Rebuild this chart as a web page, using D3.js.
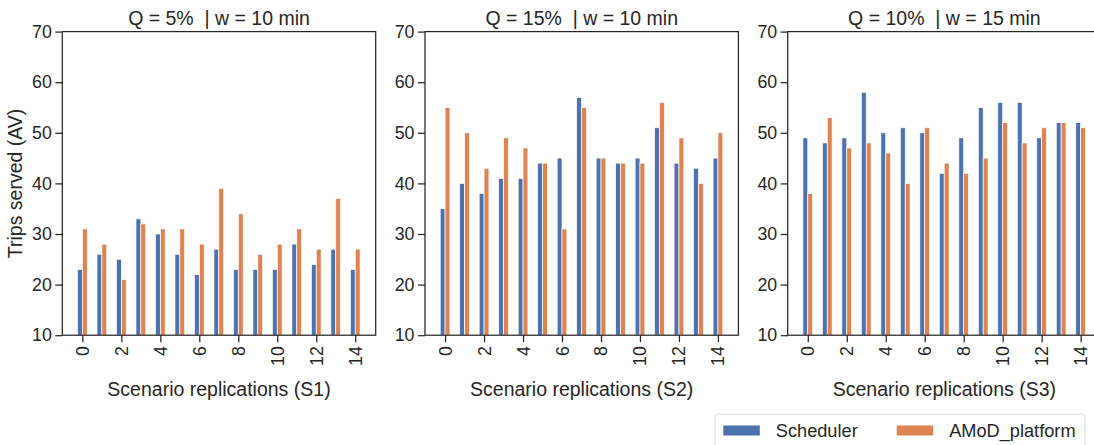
<!DOCTYPE html>
<html>
<head>
<meta charset="utf-8">
<script src="https://cdn.jsdelivr.net/npm/d3@7"></script>
<style>
  html, body { margin: 0; padding: 0; background: #fff; }
  svg { display: block; font-family: "Liberation Sans", Arial, sans-serif; }
  text { fill: #262626; white-space: pre; }
</style>
</head>
<body>
<svg id="chart" width="1094" height="445"></svg>
<script>
// Trips served per scenario replication, for three scenario settings
const replications = d3.range(15);
const tickValues = [0, 2, 4, 6, 8, 10, 12, 14];
const yTicks = [10, 20, 30, 40, 50, 60, 70];

const panelTitles = ["Q = 5%  | w = 10 min", "Q = 15%  | w = 10 min", "Q = 10%  | w = 15 min"];
const panelXLabels = ["Scenario replications (S1)", "Scenario replications (S2)", "Scenario replications (S3)"];

const schedulerS1 = [23, 26, 25, 33, 30, 26, 22, 27, 23, 23, 23, 28, 24, 27, 23];
const platformS1  = [31, 28, 21, 32, 31, 31, 28, 39, 34, 26, 28, 31, 27, 37, 27];
const schedulerS2 = [35, 40, 38, 41, 41, 44, 45, 57, 45, 44, 45, 51, 44, 43, 45];
const platformS2  = [55, 50, 43, 49, 47, 44, 31, 55, 45, 44, 44, 56, 49, 40, 50];
const schedulerS3 = [49, 48, 49, 58, 50, 51, 50, 42, 49, 55, 56, 56, 49, 52, 52];
const platformS3  = [38, 53, 47, 48, 46, 40, 51, 44, 42, 45, 52, 48, 51, 52, 51];

const seriesNames = ["Scheduler", "AMoD_platform"];
const seriesColors = ["#4C72B0", "#DD8452"];

const panels = [
  { title: panelTitles[0], xlabel: panelXLabels[0], series: [schedulerS1, platformS1] },
  { title: panelTitles[1], xlabel: panelXLabels[1], series: [schedulerS2, platformS2] },
  { title: panelTitles[2], xlabel: panelXLabels[2], series: [schedulerS3, platformS3] }
];

const svg = d3.select("#chart");
const panelLefts = [62.3, 425, 787.7];
const panelWidth = 313.4;
const plotTop = 31.6, plotBottom = 335.2;
const ink = "#262626";
const fontFamily = "Liberation Sans, Arial, sans-serif";

const y = d3.scaleLinear().domain([10, 70]).range([plotBottom, plotTop]);
const barW = 0.25;

panels.forEach((p, pi) => {
  const left = panelLefts[pi];
  const x = d3.scaleLinear().domain([-1.03, 15.05]).range([left, left + panelWidth]);
  const unit = x(1) - x(0);
  const g = svg.append("g");

  // bars: two series side by side around each replication index
  p.series.forEach((vals, si) => {
    g.append("g").selectAll("rect").data(vals).join("rect")
      .attr("x", (d, i) => x(replications[i]) + (si - 1) * barW * unit)
      .attr("width", barW * unit)
      .attr("y", d => y(d))
      .attr("height", d => y(10) - y(d))
      .attr("fill", seriesColors[si])
      .attr("stroke", "#fff")
      .attr("stroke-width", 0.7);
  });

  // frame
  g.append("rect")
    .attr("x", left).attr("y", plotTop)
    .attr("width", panelWidth).attr("height", plotBottom - plotTop)
    .attr("fill", "none").attr("stroke", ink).attr("stroke-width", 1.25);

  // y axis
  const yAxis = g.append("g").attr("transform", `translate(${left},0)`)
    .call(d3.axisLeft(y).tickValues(yTicks).tickSize(7).tickPadding(3.5).tickFormat(d3.format("d")));
  yAxis.select(".domain").remove();
  yAxis.selectAll("line").attr("stroke", ink).attr("stroke-width", 1.25);
  yAxis.selectAll("text").attr("font-size", 17.8).attr("fill", ink)
    .attr("font-family", fontFamily);

  // x axis with rotated labels
  const xAxis = g.append("g").attr("transform", `translate(0,${plotBottom})`)
    .call(d3.axisBottom(x).tickValues(tickValues).tickSize(7).tickFormat(d3.format("d")));
  xAxis.select(".domain").remove();
  xAxis.selectAll("line").attr("stroke", ink).attr("stroke-width", 1.25);
  xAxis.selectAll("text")
    .attr("font-size", 17.8).attr("fill", ink)
    .attr("font-family", fontFamily)
    .attr("y", 0).attr("x", 0).attr("dy", null)
    .attr("text-anchor", "end")
    .attr("dominant-baseline", "central")
    .attr("transform", "translate(0,11) rotate(-90)");

  // title
  g.append("text")
    .attr("x", left + panelWidth / 2).attr("y", 24.5)
    .attr("text-anchor", "middle").attr("font-size", 19.5)
    .text(p.title);

  // x label
  g.append("text")
    .attr("x", left + panelWidth / 2).attr("y", 396)
    .attr("text-anchor", "middle").attr("font-size", 19.5)
    .text(p.xlabel);
});

// y label
svg.append("text")
  .attr("transform", `translate(22,${(plotTop + plotBottom) / 2}) rotate(-90)`)
  .attr("text-anchor", "middle").attr("font-size", 19.5)
  .text("Trips served (AV)");

// legend
const legend = svg.append("g");
legend.append("rect")
  .attr("x", 715).attr("y", 414.3).attr("width", 370).attr("height", 40)
  .attr("rx", 3).attr("fill", "#fff").attr("stroke", "#d9d9d9").attr("stroke-width", 1);
const legendX = [723.3, 896.7];
seriesNames.forEach((name, i) => {
  legend.append("rect")
    .attr("x", legendX[i]).attr("y", 425.5).attr("width", 36.5).attr("height", 10)
    .attr("fill", seriesColors[i]);
  legend.append("text")
    .attr("x", legendX[i] + 52.5).attr("y", 437)
    .attr("font-size", 18.2).text(name);
});
</script>
</body>
</html>
